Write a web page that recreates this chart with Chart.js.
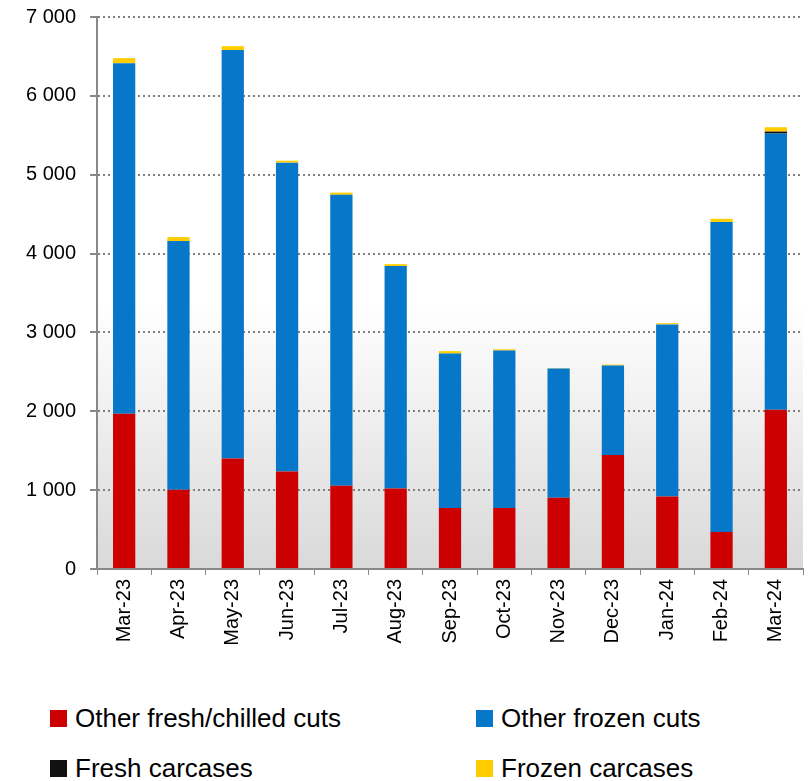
<!DOCTYPE html>
<html>
<head>
<meta charset="utf-8">
<script src="https://cdn.jsdelivr.net/npm/chart.js@4"></script>
<style>
  body { margin: 0; background: #fff; font-family: "Liberation Sans", sans-serif; }
  #wrap { position: relative; width: 808px; height: 680px; }
  #legend { position: relative; width: 808px; height: 101px; }
  .item { position: absolute; display: flex; align-items: center; font-size: 26px; color: #000; white-space: nowrap; }
  .box { width: 17px; height: 17px; margin-right: 8px; }
</style>
</head>
<body>
<div id="wrap"><canvas id="chart" width="808" height="680"></canvas></div>
<div id="legend"></div>
<script>
const months = ["Mar-23", "Apr-23", "May-23", "Jun-23", "Jul-23", "Aug-23", "Sep-23",
  "Oct-23", "Nov-23", "Dec-23", "Jan-24", "Feb-24", "Mar-24"];
const freshChilledCuts = [1970, 1005, 1400, 1235, 1055, 1020, 775, 775, 905, 1445, 920, 470, 2020];
const frozenCuts = [4444, 3154, 5180, 3918, 3690, 2821, 1958, 1996, 1636, 1135, 2182, 3931, 3502];
const freshCarcases = [0, 0, 0, 0, 0, 0, 0, 0, 0, 0, 0, 0, 25];
const frozenCarcases = [64, 50, 50, 25, 28, 25, 30, 15, 5, 12, 15, 40, 55];
const yTicks = [0, 1000, 2000, 3000, 4000, 5000, 6000, 7000];

const series = [
  { label: "Other fresh/chilled cuts", data: freshChilledCuts, color: "#CC0000" },
  { label: "Other frozen cuts", data: frozenCuts, color: "#0777C9" },
  { label: "Fresh carcases", data: freshCarcases, color: "#111111" },
  { label: "Frozen carcases", data: frozenCarcases, color: "#FFCC00" },
];

// plot area gradient: white at top, light grey at bottom
const bgPlugin = {
  id: "bg",
  beforeDraw(chart) {
    const { ctx, chartArea: a } = chart;
    const g = ctx.createLinearGradient(0, a.top, 0, a.bottom);
    g.addColorStop(0, "#ffffff");
    g.addColorStop(0.52, "#ffffff");
    g.addColorStop(1, "#d9d9d9");
    ctx.save();
    ctx.fillStyle = g;
    ctx.fillRect(a.left, a.top, a.right - a.left, a.bottom - a.top);
    ctx.restore();
  },
};

new Chart(document.getElementById("chart"), {
  type: "bar",
  data: {
    labels: months,
    datasets: series.map(s => ({
      label: s.label,
      data: s.data,
      backgroundColor: s.color,
      borderWidth: 0,
      categoryPercentage: 1,
      barPercentage: 0.41,
    })),
  },
  options: {
    responsive: false,
    animation: false,
    layout: { padding: { top: 17, right: 5, left: 0, bottom: 0 } },
    plugins: { legend: { display: false }, tooltip: { enabled: false } },
    scales: {
      x: {
        stacked: true,
        offset: true,
        grid: {
          offset: true,
          drawOnChartArea: false,
          drawTicks: true,
          tickLength: 6,
          color: "#888",
        },
        border: { color: "#888", width: 2 },
        ticks: {
          color: "#000",
          font: { family: "Liberation Sans", size: 20 },
          minRotation: 90,
          maxRotation: 90,
          padding: 4,
          autoSkip: false,
        },
        afterFit(scale) {
          scale.height = 111;
          scale.paddingLeft = 0;
          scale.paddingRight = 0;
        },
      },
      y: {
        stacked: true,
        min: 0,
        max: 7000,
        afterBuildTicks(scale) { scale.ticks = yTicks.map(v => ({ value: v })); },
        grid: {
          color: ctx => (ctx.tick && ctx.tick.value === 0 ? "rgba(0,0,0,0)" : "#808080"),
          lineWidth: 2,
          tickColor: "#888",
          tickLength: 7,
          drawTicks: true,
        },
        border: { color: "#888", width: 2, dash: [2, 3] },
        ticks: {
          color: "#000",
          font: { family: "Liberation Sans", size: 20 },
          padding: 14,
          callback: v => String(v).replace(/\B(?=(\d{3})+(?!\d))/g, " "),
        },
        afterFit(scale) {
          scale.width = 97;
          scale.paddingTop = 0;
          scale.paddingBottom = 0;
        },
      },
    },
  },
  plugins: [bgPlugin],
});

// legend in two columns underneath
const legend = document.getElementById("legend");
const spots = [[50, 38], [476, 38], [50, 88], [476, 88]];
series.forEach((s, i) => {
  const el = document.createElement("div");
  el.className = "item";
  el.style.left = spots[i][0] + "px";
  el.style.top = (spots[i][1] - 15) + "px";
  el.innerHTML = '<span class="box" style="background:' + s.color + '"></span>' + s.label;
  legend.appendChild(el);
});
</script>
</body>
</html>
